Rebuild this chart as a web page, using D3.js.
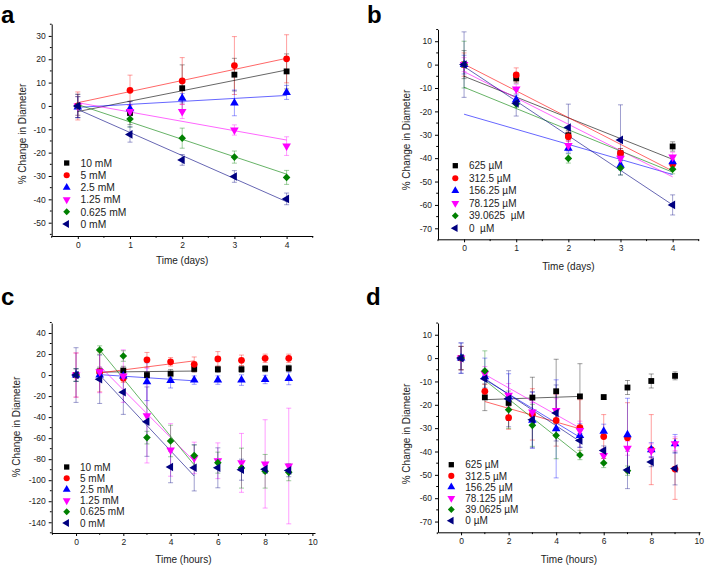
<!DOCTYPE html>
<html><head><meta charset="utf-8">
<script src="https://cdn.jsdelivr.net/npm/d3@7"></script>
<style>
html,body{margin:0;padding:0;background:#fff;}
svg{display:block;font-family:'Liberation Sans',Arial,sans-serif;}
</style></head>
<body><svg id="chart" width="705" height="566"></svg>
<script>
// ---------------- DATA ----------------
const timeDays = [0, 1, 2, 3, 4];
const timeHours = [0, 1, 2, 3, 4, 5, 6, 7, 8, 9];

const namesA = ["10 mM", "5 mM", "2.5 mM", "1.25 mM", "0.625 mM", "0 mM"];
const namesB = ["625 µM", "312.5 µM", "156.25 µM", "78.125 µM", "39.0625  µM", "0  µM"];
const namesC = ["10 mM", "5 mM", "2.5 mM", "1.25 mM", "0.625 mM", "0 mM"];
const namesD = ["625 µM", "312.5 µM", "156.25 µM", "78.125 µM", "39.0625 µM", "0 µM"];

// panel a (days)
const valuesA = [
  [0, -3.0, 7.6, 13.4, 14.8],
  [0, 6.7, 10.7, 17.3, 20.2],
  [-0.5, -1.2, 3.3, 1.3, 5.8],
  [0, -2.4, -2.4, -10.3, -17.2],
  [0, -5.6, -13.8, -21.9, -30.6],
  [0, -12.2, -23.1, -30.2, -39.8]
];
const errorsA = [
  [5, 5, 10, 7, 7.5],
  [6, 6.5, 10, 12.4, 10.3],
  [4.5, 3, 2, 5.5, 3],
  [4, 3, 3, 2.2, 4],
  [4, 3.5, 4.3, 2.6, 3],
  [5, 3.3, 2.3, 2.5, 2.5]
];
const fitsA = [[-2.4, 15.4], [1.4, 20.4], [-0.6, 4.5], [1.4, -14.6], [0.6, -29.2], [-1.5, -41]];

// panel b (days)
const valuesB = [
  [0, -5.9, -30.2, -37.9, -35],
  [0, -4.4, -30.8, -37.9, -42.5],
  [0, -15, -35.8, -43, -41.5],
  [0, -10.4, -34.6, -40, -39.5],
  [0, -16.8, -40.1, -44.2, -44.7],
  [0, -16.5, -26.9, -32.2, -60]
];
const errorsB = [
  [6, 2, 2, 2, 2],
  [5, 3, 2, 2, 2],
  [4, 2, 2, 2, 2],
  [3, 2, 2, 2, 2],
  [10, 1.5, 2, 3, 2],
  [14, 5.5, 10, 15, 4.3]
];
const fitsB = [[-5, -40.5], [0.2, -45.5], [-21.2, -47], [-3, -48], [-9.7, -46], [-0.8, -60]];

// panel c (hours)
const valuesC = [
  [0, 3.5, 4.3, 0, 1.3, 5.8, 5.5, 5.5, 6.1, 6.4],
  [0, 3, -3, 14.5, 12.6, 10.2, 15.3, 14, 15.9, 15.9],
  [0, 0, -1, -6.3, -5.3, -4.8, -4.8, -4.8, -4.2, -3.2],
  [0, 3.2, -1, -38.6, -71.2, -78.8, -81.5, -83.5, -84.5, -86.5],
  [0, 23.8, 18.1, -59.5, -62.7, -76.6, -83.3, -88.5, -91.5, -92.5],
  [0, -4, -16.4, -44.3, -87.4, -88.2, -88.2, -90, -89.5, -90.7]
];
const errorsC = [
  [6, 4, 4, 3, 4, 3, 3, 3, 3, 3],
  [21, 19, 4, 7, 4, 7, 7, 5, 4, 4],
  [6, 5, 4, 18, 7, 4, 4, 5, 4, 6],
  [21, 20, 25, 45, 25, 15, 17, 28, 42, 55],
  [6, 4, 5, 6, 15, 10, 10, 19, 16, 8],
  [26, 23, 21, 33, 15, 22, 19, 10, 4, 6]
];
const fitsC = [[2.8, 3.8], [2, 13.5], [0.4, -5.5], [8.6, -82], [24, -85.5], [0, -96]];

// panel d (hours)
const valuesD = [
  [0, -16.8, -19.2, -16.9, -14.2, -16.4, -16.7, -12.6, -9.8, -7.6],
  [0, -14.2, -25.5, -24.1, -26.7, -29.8, -33.6, -34.1, -39.2, -47.5],
  [0, -8, -16.7, -26.6, -30.3, -33.1, -31.3, -32.8, -39.2, -36.7],
  [0, -6.6, -15.9, -23.1, -22.4, -31, -41.7, -38.6, -39.7, -36.7],
  [0, -5.5, -22.1, -28.8, -33.1, -41.5, -44.9, -48.2, null, null],
  [0, -8.8, -17.4, -26.4, -23.5, -35.3, -39.6, -47.9, -44.5, -47.3]
];
const errorsD = [
  [5, 5.7, 3, 8.7, 13.7, 14, 1, 3, 3, 1.7],
  [5, 3, 5, 11, 11, 12, 9.4, 15, 15, 13],
  [6.5, 8, 10, 12, 21, 5, 3, 15.6, 3, 4],
  [5, 3, 5, 4, 5, 4, 3, 3, 3, 3],
  [5, 8.6, 8, 9, 10, 2, 2, 2, 0, 0],
  [6.5, 4, 12, 12, 12, 3, 2, 8, 2, 7]
];
const fitsD = [[-17.8, -16.4], [-18.6, -30.3], [-9.2, -33.9], [-7, -30], [-9.5, -41.7], [-8.8, -35.7]];

const fitRangeDays = [0, 4];
const fitRangeHours = [1, 5];

const yTicksA = [30, 20, 10, 0, -10, -20, -30, -40, -50];
const yTicksB = [10, 0, -10, -20, -30, -40, -50, -60, -70];
const yTicksC = [40, 20, 0, -20, -40, -60, -80, -100, -120, -140];
const yTicksD = [10, 0, -10, -20, -30, -40, -50, -60, -70];
const xTicksDays = [0, 1, 2, 3, 4];
const xTicksHours = [0, 2, 4, 6, 8, 10];

// ---------------- STYLE ----------------
const colors = ["#000000", "#ff0000", "#0000ff", "#ff00ff", "#008000", "#000080"];
const svg = d3.select("#chart");

function symbolPath(i, size) {
  const types = [d3.symbolSquare, d3.symbolCircle, d3.symbolTriangle, d3.symbolTriangle, d3.symbolSquare, d3.symbolTriangle];
  const rot = [0, 0, 0, 180, 45, -90];
  const sz = [size, size * 1.05, size * 0.95, size * 0.95, size * 0.85, size * 0.95];
  return { d: d3.symbol().type(types[i]).size(sz[i])(), rot: rot[i] };
}

function range(a, b, s) { const r = []; for (let v = a; v <= b + 1e-9; v += s) r.push(+v.toFixed(4)); return r; }

function drawPanel(cfg) {
  const g = svg.append("g");
  const x = d3.scaleLinear().domain(cfg.xDomain).range([cfg.box.l, cfg.box.r]);
  const y = d3.scaleLinear().domain(cfg.yDomain).range([cfg.box.b, cfg.box.t]);

  // axes
  const fmt = d => String(d);
  const xAxis = g.append("g").attr("transform", `translate(0,${cfg.box.b})`)
    .call(d3.axisBottom(x).tickValues(cfg.xTicks).tickSize(3).tickSizeOuter(0).tickPadding(3).tickFormat(fmt));
  const yAxis = g.append("g").attr("transform", `translate(${cfg.box.l},0)`)
    .call(d3.axisLeft(y).tickValues(cfg.yTicks).tickSize(3).tickSizeOuter(0).tickPadding(3).tickFormat(fmt));
  // minor ticks
  g.append("g").selectAll("line").data(cfg.xMinor).join("line")
    .attr("x1", d => x(d)).attr("x2", d => x(d)).attr("y1", cfg.box.b).attr("y2", cfg.box.b + 1.8)
    .attr("stroke", "#000");
  g.append("g").selectAll("line").data(cfg.yMinor).join("line")
    .attr("y1", d => y(d)).attr("y2", d => y(d)).attr("x1", cfg.box.l).attr("x2", cfg.box.l - 1.8)
    .attr("stroke", "#000");
  [xAxis, yAxis].forEach(a => {
    a.selectAll("text").attr("font-size", 8.5).attr("fill", "#222").attr("font-family", "'Liberation Sans',Arial,sans-serif");
    a.select(".domain").attr("stroke", "#000").attr("stroke-width", 1);
  });

  const series = cfg.values.map((vals, i) => ({
    i, pts: vals.map((v, k) => ({ t: cfg.times[k], v, e: cfg.errors[i][k] })).filter(p => p.v !== null)
  }));

  // error bars
  const cap = 2.5;
  series.forEach(s => {
    const eg = g.append("g").attr("stroke", colors[s.i]).attr("stroke-opacity", 0.38).attr("stroke-width", 1).attr("fill", "none");
    s.pts.forEach(p => {
      const xx = x(p.t), y1 = y(p.v + p.e), y2 = y(p.v - p.e);
      eg.append("line").attr("x1", xx).attr("x2", xx).attr("y1", y1).attr("y2", y2);
      eg.append("line").attr("x1", xx - cap).attr("x2", xx + cap).attr("y1", y1).attr("y2", y1);
      eg.append("line").attr("x1", xx - cap).attr("x2", xx + cap).attr("y1", y2).attr("y2", y2);
    });
  });

  // fit lines
  const line = d3.line().x(d => x(d[0])).y(d => y(d[1]));
  cfg.fits.forEach((f, i) => {
    g.append("path").attr("d", line([[cfg.fitRange[0], f[0]], [cfg.fitRange[1], f[1]]]))
      .attr("stroke", colors[i]).attr("stroke-opacity", 0.6).attr("stroke-width", 1).attr("fill", "none");
  });

  // markers
  series.forEach(s => {
    const sp = symbolPath(s.i, 34);
    g.append("g").selectAll("path").data(s.pts).join("path")
      .attr("d", sp.d)
      .attr("transform", p => `translate(${x(p.t)},${y(p.v)}) rotate(${sp.rot})`)
      .attr("fill", colors[s.i]);
  });

  // legend
  cfg.names.forEach((n, i) => {
    const ly = cfg.legend.y0 + i * cfg.legend.dy;
    const sp = symbolPath(i, 28);
    g.append("path").attr("d", sp.d).attr("transform", `translate(${cfg.legend.x},${ly}) rotate(${sp.rot})`).attr("fill", colors[i]);
    g.append("text").attr("x", cfg.legend.tx).attr("y", ly).attr("dy", "0.36em")
      .attr("font-size", cfg.legend.fs).attr("fill", "#222").style("white-space", "pre").text(n);
  });

  // titles
  g.append("text").attr("x", (cfg.box.l + cfg.box.r) / 2).attr("y", cfg.xTitleY)
    .attr("text-anchor", "middle").attr("font-size", 10).attr("fill", "#222").text(cfg.xTitle);
  g.append("text").attr("transform", `translate(${cfg.yTitleX},${cfg.yTitleY}) rotate(-90)`)
    .attr("text-anchor", "middle").attr("dy", "0.35em").attr("font-size", 10).attr("fill", "#222").text("% Change in Diameter");
  g.append("text").attr("x", cfg.letter[0]).attr("y", cfg.letter[1])
    .attr("font-size", 24).attr("font-weight", "bold").attr("fill", "#000").text(cfg.letter[2]);
}

drawPanel({
  box: { l: 51.7, r: 312.7, t: 24, b: 236 }, xDomain: [-0.5, 4.5], yDomain: [-55.7, 35.1],
  xTicks: xTicksDays, xMinor: range(-0.5, 4.5, 0.5).filter(v => v % 1 !== 0), yTicks: yTicksA, yMinor: range(-55, 35, 5).filter(v => v % 10 !== 0),
  times: timeDays, values: valuesA, errors: errorsA, fits: fitsA, fitRange: fitRangeDays, names: namesA,
  legend: { x: 66.7, y0: 163, dy: 12.2, tx: 80.5, fs: 10.3 },
  xTitle: "Time (days)", xTitleY: 264, yTitleX: 22, yTitleY: 134, letter: [1, 23, "a"]
});
drawPanel({
  box: { l: 438, r: 698.7, t: 29.3, b: 239.3 }, xDomain: [-0.5, 4.5], yDomain: [-74.7, 15.1],
  xTicks: xTicksDays, xMinor: range(-0.5, 4.5, 0.5).filter(v => v % 1 !== 0), yTicks: yTicksB, yMinor: range(-70, 15, 5).filter(v => v % 10 !== 0),
  times: timeDays, values: valuesB, errors: errorsB, fits: fitsB, fitRange: fitRangeDays, names: namesB,
  legend: { x: 455.3, y0: 165.7, dy: 12.5, tx: 469, fs: 10 },
  xTitle: "Time (days)", xTitleY: 270, yTitleX: 406, yTitleY: 140, letter: [367, 23, "b"]
});
drawPanel({
  box: { l: 51.7, r: 315, t: 323, b: 533 }, xDomain: [-1.03, 10.11], yDomain: [-150.2, 49.5],
  xTicks: xTicksHours, xMinor: range(-1, 10, 1).filter(v => v % 2 !== 0), yTicks: yTicksC, yMinor: range(-150, 50, 10).filter(v => v % 20 !== 0),
  times: timeHours, values: valuesC, errors: errorsC, fits: fitsC, fitRange: fitRangeHours, names: namesC,
  legend: { x: 66.7, y0: 467, dy: 11.2, tx: 80, fs: 10 },
  xTitle: "Time (hours)", xTitleY: 563, yTitleX: 16, yTitleY: 427, letter: [1, 305, "c"]
});
drawPanel({
  box: { l: 438, r: 700, t: 323, b: 532.3 }, xDomain: [-0.97, 10.05], yDomain: [-74.6, 15.03],
  xTicks: xTicksHours, xMinor: range(-1, 10, 1).filter(v => v % 2 !== 0), yTicks: yTicksD, yMinor: range(-70, 15, 5).filter(v => v % 10 !== 0),
  times: timeHours, values: valuesD, errors: errorsD, fits: fitsD, fitRange: fitRangeHours, names: namesD,
  legend: { x: 451.3, y0: 464.7, dy: 11.2, tx: 465.3, fs: 10 },
  xTitle: "Time (hours)", xTitleY: 563, yTitleX: 406, yTitleY: 434, letter: [366, 305, "d"]
});
</script>
</body></html>
